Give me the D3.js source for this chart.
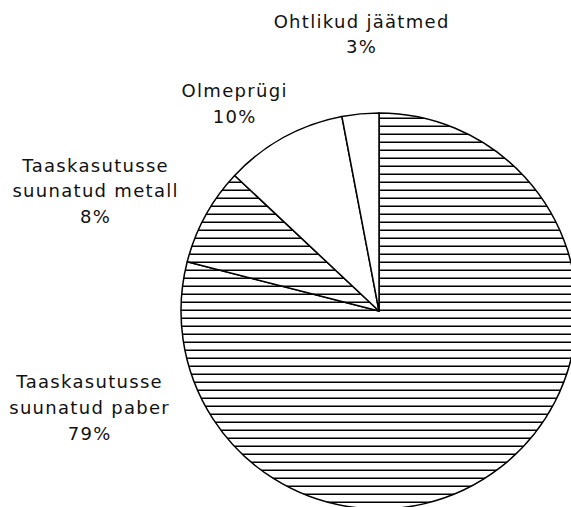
<!DOCTYPE html>
<html>
<head>
<meta charset="utf-8">
<script src="https://cdn.jsdelivr.net/npm/d3@7"></script>
<style>
  body { margin: 0; background: #fff; }
  svg { display: block; }
  text { font-family: "DejaVu Sans", Verdana, sans-serif; font-size: 18px; fill: #111; letter-spacing: 1.3px; }
</style>
</head>
<body>
<div id="chart"></div>
<script>
// data, clockwise from 12 o'clock
var categories = ["Taaskasutusse suunatud paber", "Taaskasutusse suunatud metall", "Olmeprügi", "Ohtlikud jäätmed"];
var values = [79, 8, 10, 3];
var hatched = [true, true, false, false];

// label layout: lines of text, centre x, baseline y
var labelLines = [
  ["Taaskasutusse", "suunatud paber", "79%"],
  ["Taaskasutusse", "suunatud metall", "8%"],
  ["Olmeprügi", "10%"],
  ["Ohtlikud jäätmed", "3%"]
];
var labelPos = [
  [[89, 388], [89, 414], [89, 440]],
  [[95, 172], [95, 197], [95, 223]],
  [[234, 97], [234, 123]],
  [[361, 28], [361, 53]]
];

var width = 571, height = 507;
var cx = 379, cy = 311, radius = 198;

var svg = d3.select("#chart").append("svg")
  .attr("width", width)
  .attr("height", height);

var defs = svg.append("defs");
var pat = defs.append("pattern")
  .attr("id", "hatch")
  .attr("patternUnits", "userSpaceOnUse")
  .attr("x", 0).attr("y", 0)
  .attr("width", width).attr("height", 8);
pat.append("rect").attr("width", width).attr("height", 8).attr("fill", "#fff");
pat.append("line")
  .attr("x1", 0).attr("x2", width)
  .attr("y1", 7.3).attr("y2", 7.3)
  .attr("stroke", "#000")
  .attr("stroke-width", 1.4);

var pie = d3.pie().sort(null).value(function(d) { return d; });
var arc = d3.arc().innerRadius(0).outerRadius(radius);

var g = svg.append("g").attr("transform", "translate(" + cx + "," + cy + ")");

g.selectAll("path")
  .data(pie(values))
  .enter().append("path")
  .attr("d", arc)
  .attr("fill", function(d, i) { return hatched[i] ? "url(#hatch)" : "#fff"; })
  .attr("stroke", "#000")
  .attr("stroke-width", 1.5)
  .attr("stroke-linejoin", "round");

labelLines.forEach(function(lines, i) {
  lines.forEach(function(t, j) {
    svg.append("text")
      .attr("x", labelPos[i][j][0] + 0.65)
      .attr("y", labelPos[i][j][1])
      .attr("text-anchor", "middle")
      .text(t);
  });
});
</script>
</body>
</html>
